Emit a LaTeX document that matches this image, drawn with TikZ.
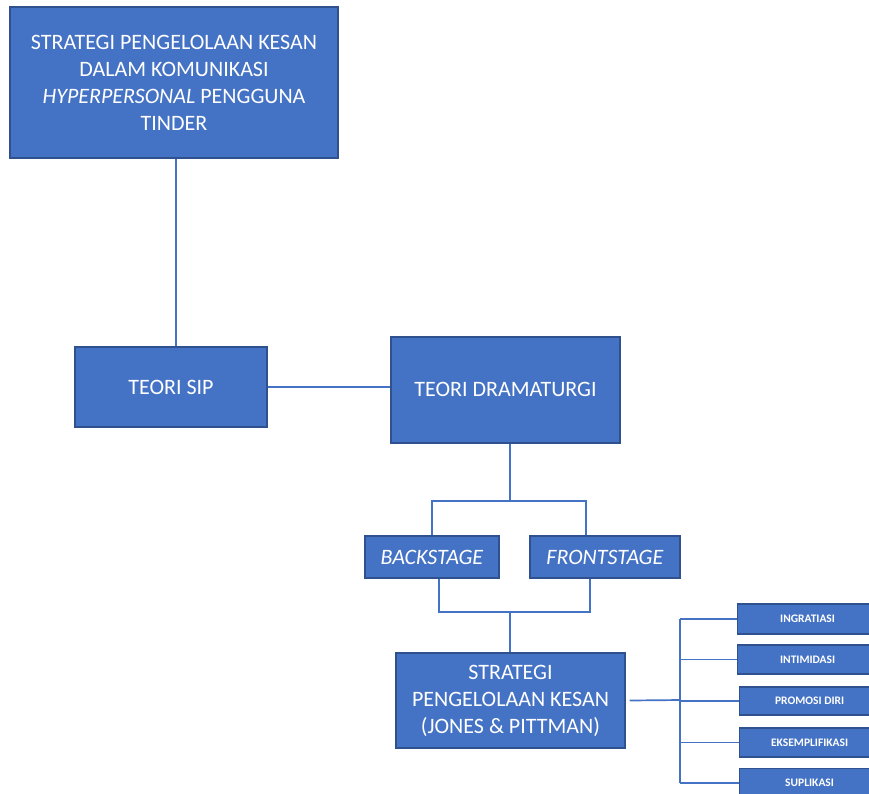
\documentclass[tikz,border=0pt]{standalone}
\usepackage{fontspec}
\setmainfont{Carlito}
\definecolor{boxfill}{HTML}{4472C4}
\definecolor{boxline}{HTML}{2F528F}
\definecolor{conncol}{HTML}{4472C4}
\begin{document}
\begin{tikzpicture}[x=1pt,y=-1pt,
  box/.style={draw=boxline,line width=1.2pt,fill=boxfill,text=white,align=center,inner sep=0pt,font=\fontsize{22}{27}\selectfont},
  small/.style={box,anchor=west,minimum width=140pt,font=\fontsize{11.5}{13}\selectfont\bfseries},
  conn/.style={draw=conncol,line width=1.7pt}]
\useasboundingbox (0,0) rectangle (869,793);
\node[box,minimum width=328pt,minimum height=151pt] (top) at (174,82.5)
  {STRATEGI PENGELOLAAN KESAN\\DALAM KOMUNIKASI\\\textit{HYPERPERSONAL} PENGGUNA\\TINDER};
\node[box,minimum width=192pt,minimum height=80pt] (sip) at (171,387) {TEORI SIP};
\node[box,minimum width=229pt,minimum height=106pt] (dram) at (505.5,390) {\raisebox{2pt}{TEORI DRAMATURGI}};
\node[box,minimum width=134pt,minimum height=42pt] (back) at (432,557) {\textit{BACKSTAGE}};
\node[box,minimum width=150pt,minimum height=42pt] (front) at (605,557) {\textit{FRONTSTAGE}};
\node[box,minimum width=229pt,minimum height=95pt] (strat) at (510.5,700.5)
  {STRATEGI\\PENGELOLAAN KESAN\\(JONES \& PITTMAN)};
\node[small,minimum height=30pt] (ingr) at (737,619) {INGRATIASI};
\node[small,minimum height=29pt] (intim) at (737,659.5) {INTIMIDASI};
\node[small,minimum height=28pt] (prom) at (739,701) {PROMOSI DIRI};
\node[small,minimum height=29pt] (eks) at (739,742.5) {EKSEMPLIFIKASI};
\node[small,minimum height=29pt] (supl) at (739,783) {SUPLIKASI};
\coordinate (j1) at (510,501);
\coordinate (j2) at (510,612);
\coordinate (bus) at (680,700);
% connectors
\draw[conn] ([xshift=2pt]top.south) -- ([xshift=2pt]top.south |- sip.north);
\draw[conn] (sip.east) -- (sip.east -| dram.west);
\draw[conn] (dram.south -| j1) -- (j1);
\draw[conn] (back.north) |- (j1) -| ([xshift=-19pt]front.north);
\draw[conn] ([xshift=7pt]back.south) |- (j2) -| ([xshift=-15pt]front.south);
\draw[conn] (j2) -- (strat.north -| j2);
\draw[conn] ([xshift=4pt]strat.east) -- (bus);
\draw[conn] (bus |- ingr.west) -- (bus |- supl.west);
\foreach \n in {ingr,intim,prom,eks,supl}
  \draw[conn] (bus |- \n.west) -- (\n.west);
\end{tikzpicture}
\end{document}
